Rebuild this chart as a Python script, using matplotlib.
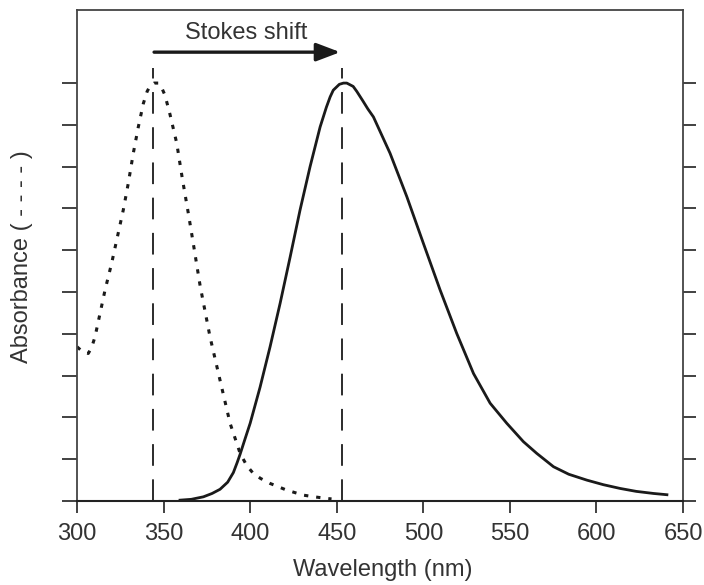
import matplotlib
matplotlib.use("Agg")
import matplotlib.pyplot as plt

plt.rcParams['font.family'] = ['Liberation Sans', 'DejaVu Sans']

# Absorbance spectrum (dotted), arbitrary units 0-10
abs_wl = [300, 303, 306.5, 308.5, 310.4, 313.3, 316.2, 320, 322.9, 326.7, 329.6, 332.5, 335.4,
          338.3, 340.5, 342.2, 344.5, 347, 349, 350.8, 353.7, 357.6, 360.8, 364.3, 367.2,
          371.1, 376.8, 382.6, 388.4, 394.2, 398, 401.8, 406, 411.5, 421.1, 430.7, 437, 444.3, 447]
abs_val = [3.69, 3.58, 3.53, 3.68, 3.93, 4.49, 5.05, 5.69, 6.24, 6.96, 7.60, 8.32, 8.95,
           9.51, 9.80, 9.93, 10.0, 10.0, 9.88, 9.71, 9.25, 8.56, 7.72, 6.88, 6.15,
           5.15, 3.93, 2.89, 1.86, 1.14, 0.85, 0.66, 0.54, 0.42, 0.26, 0.14, 0.10, 0.06, 0.05]

# Emission spectrum (solid)
em_wl = [359.5, 366, 373, 378, 382.6, 387, 390.3, 392.5, 394.2, 397, 400, 405.7, 411.5, 417.3,
         423.1, 428.8, 434.6, 440.4, 444, 446.2, 448, 451.5, 453.9, 455.8, 459.5, 461.6, 465,
         468, 471.2, 480.8, 490.5, 500, 509.7, 519.3, 529, 538.6, 548.2, 557.8, 565.5, 575.2,
         584, 594.4, 604, 613.7, 623, 633, 640.7]
em_val = [0.02, 0.04, 0.10, 0.18, 0.28, 0.45, 0.68, 0.92, 1.12, 1.48, 1.86, 2.72, 3.69, 4.73,
          5.84, 6.96, 8.0, 8.95, 9.42, 9.67, 9.83, 9.97, 10.0, 10.0, 9.92, 9.80, 9.58,
          9.38, 9.19, 8.32, 7.28, 6.17, 5.05, 4.01, 3.05, 2.34, 1.86, 1.42, 1.14, 0.82,
          0.64, 0.50, 0.39, 0.30, 0.23, 0.18, 0.15]

abs_peak = 344
em_peak = 453
x_ticks = [300, 350, 400, 450, 500, 550, 600, 650]
y_ticks = list(range(0, 11))

ink = '#1a1a1a'
txt = '#333333'
fig = plt.figure(figsize=(7.04, 5.85), dpi=100)
ax = fig.add_axes([0.1094, 0.1436, 0.8608, 0.8394])

ax.plot(abs_wl, abs_val, linestyle=(0, (1.4, 2.6)), color=ink, lw=2.2,
        solid_capstyle='butt', dash_capstyle='butt')
ax.plot(em_wl, em_val, linestyle='-', color=ink, lw=2.0, solid_joinstyle='round')

for xv in (abs_peak, em_peak):
    ax.plot([xv, xv], [0, 10.36], color=ink, lw=1.3, linestyle=(0, (12, 7.5)))

ax.annotate('', xy=(em_peak - 1.0, 10.74), xytext=(abs_peak + 0.5, 10.74),
            arrowprops=dict(arrowstyle='-|>,head_length=1.45,head_width=0.55', color=ink, lw=2.4,
                            shrinkA=0, shrinkB=0, mutation_scale=10))
ax.text(397.5, 11.05, 'Stokes shift', ha='center', va='baseline', fontsize=17, color=txt)

ax.set_xlim(300, 650)
ax.set_ylim(0, 11.75)
ax.set_xticks(x_ticks)
ax.set_yticks(y_ticks)
ax.set_yticklabels([])
ax.tick_params(axis='y', which='both', direction='out', length=10.8, width=1.3, color='#333333',
               left=True, right=True, labelleft=False, labelright=False)
for t in ax.yaxis.get_major_ticks():
    t.tick2line.set_markersize(9.4)
ax.tick_params(axis='x', direction='out', length=8.6, width=1.3, color='#333333', labelsize=17,
               labelcolor=txt, pad=7.5)
for s in ax.spines.values():
    s.set_color('#444444')
    s.set_linewidth(1.3)
ax.spines['bottom'].set_linewidth(1.5)
ax.spines['bottom'].set_color('#222222')

ax.set_xlabel('Wavelength (nm)', fontsize=17, color=txt)
ax.xaxis.set_label_coords(0.505, -0.119)
ax.set_ylabel('Absorbance ( - - - - )', fontsize=17, color=txt)
ax.yaxis.set_label_coords(-0.073, 0.497)

fig.savefig('out.png', dpi=100)
